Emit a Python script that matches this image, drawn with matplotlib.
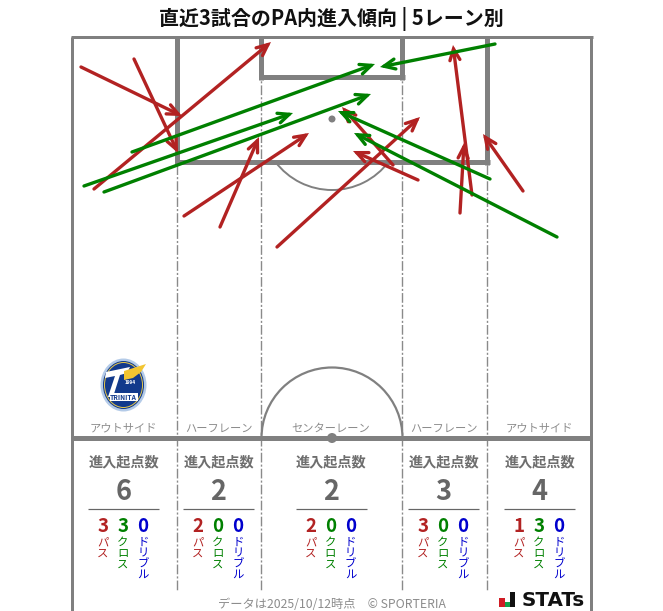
import matplotlib
matplotlib.use("Agg")
import matplotlib.pyplot as plt
from matplotlib.patches import Arc, Circle, Ellipse, Polygon, Rectangle

plt.rcParams['font.family'] = ['Noto Sans CJK JP', 'DejaVu Sans']

TITLE = "直近3試合のPA内進入傾向 | 5レーン別"
FOOTER = "データは2025/10/12時点　© SPORTERIA"
STAT_HEAD = "進入起点数"
lane_names = ["アウトサイド", "ハーフレーン", "センターレーン", "ハーフレーン", "アウトサイド"]
lane_centers = [123.5, 218.5, 331, 443.5, 539.5]
totals = [6, 2, 2, 3, 4]
passes = [3, 2, 2, 3, 1]
crosses = [3, 0, 0, 0, 3]
dribbles = [0, 0, 0, 0, 0]
kind_labels = ["パス", "クロス", "ドリブル"]
RED, GREEN, BLUE = "#b22222", "#008000", "#0000cd"
GREY = "#808080"

red_x0 = [81, 134, 94, 184, 220, 277, 393, 418, 472, 460, 523]
red_y0 = [67, 59, 189, 216, 227, 247, 165, 180, 195, 213, 191]
red_x1 = [182, 178, 271, 309, 259, 420, 342, 353, 453, 464, 483]
red_y1 = [116, 153, 42, 133, 137, 117, 107, 151, 45, 143, 134]

green_x0 = [132, 84, 104, 495, 490, 557]
green_y0 = [152, 186, 192, 44, 179, 237]
green_x1 = [375, 293, 371, 380, 338, 354]
green_y1 = [64, 113, 94, 67, 111, 133]

fig = plt.figure(figsize=(6.63, 6.11), dpi=100)
ax = fig.add_axes([0, 0, 1, 1])
ax.set_xlim(0, 663)
ax.set_ylim(611, 0)
ax.axis("off")

px = 0.72  # points per pixel at dpi 100

def line(xs, ys, w, c=GREY, **kw):
    ax.plot(xs, ys, color=c, lw=w * px, solid_capstyle=kw.pop("cap", "butt"), **kw)

# lane dividers
for x in [177, 261, 402, 487]:
    ax.plot([x, x], [37, 590], color="#8a8a8a", lw=1.0, ls=(0, (7, 1.5, 1.5, 1.5)), zorder=1)

# white out the divider inside the goal area
ax.add_patch(Rectangle((262, 38), 140, 38, fc="white", ec="none", zorder=1.2))
ax.add_patch(Rectangle((177.8, 38), 83, 124, fc="white", ec="none", zorder=0.5))

# pitch border
line([72, 72], [37, 611], 3)
line([591, 591], [37, 611], 3)
line([70.5, 592.5], [37, 37], 3)
line([72, 591], [438, 438], 5)
# penalty box
line([177, 177], [37, 164.5], 5)
line([487, 487], [37, 164.5], 5)
line([174.5, 489.5], [162, 162], 5)
# goal area
line([261, 261], [37, 79.5], 5)
line([402, 402], [37, 79.5], 5)
line([258.5, 404.5], [77, 77], 5)

ax.add_patch(Circle((332, 119), 3.5, fc=GREY, ec="none", zorder=2))
ax.add_patch(Circle((332, 438), 5, fc=GREY, ec="none", zorder=2))
ax.add_patch(Arc((332, 119), 142, 142, theta1=37, theta2=143, ec=GREY, lw=1.4, zorder=1.5))
ax.add_patch(Arc((332, 438), 141, 141, theta1=180, theta2=360, ec=GREY, lw=1.6, zorder=1.5))

# arrows
def arrows(x0, y0, x1, y1, c):
    for a, b, d, e in zip(x0, y0, x1, y1):
        ax.annotate("", xy=(d, e), xytext=(a, b), zorder=4,
                    arrowprops=dict(arrowstyle="->,head_length=0.8,head_width=0.36",
                                    color=c, lw=2.4, shrinkA=0, shrinkB=0,
                                    capstyle="round", joinstyle="miter"))

arrows(red_x0, red_y0, red_x1, red_y1, RED)
arrows(green_x0, green_y0, green_x1, green_y1, GREEN)

# title
ax.text(331, 19, TITLE, ha="center", va="center", fontsize=14.4, fontweight="bold", color="#111111")

# lane stats
for cx, name, tot, p, c, d in zip(lane_centers, lane_names, totals, passes, crosses, dribbles):
    ax.text(cx, 429, name, ha="center", va="center", fontsize=8.1, color="#8c8c8c")
    ax.text(cx, 462, STAT_HEAD, ha="center", va="center", fontsize=10.2, fontweight="bold", color="#6e6e6e")
    ax.text(cx, 491.5, str(tot), ha="center", va="center", fontsize=19.5, fontweight="bold", color="#666666")
    line([cx - 35.5, cx + 35.5], [508.5, 508.5], 1.2, c="#666666")
    for off, val, col, lab in zip([-20, 0, 20], [p, c, d], [RED, GREEN, BLUE], kind_labels):
        ax.text(cx + off - 0.5, 526.5, str(val), ha="center", va="center", fontsize=13.5, fontweight="bold", color=col)
        for i, ch in enumerate(lab):
            ax.text(cx + off - 0.5, 543 + i * 10.6, ch, ha="center", va="center", fontsize=8.2, color=col)

# badge
ax.add_patch(Ellipse((123.5, 385), 46, 53, fc="#b4cbe8", ec="none", zorder=3))
ax.add_patch(Ellipse((123.5, 385), 41, 48, fc="#123a8c", ec="none", zorder=3))
ax.add_patch(Ellipse((123.5, 385), 38, 45, fc="none", ec="#e8c94a", lw=0.7, zorder=3.1))
ax.add_patch(Polygon([[106, 372], [130, 367], [127, 373], [120, 375], [113, 397], [108, 397], [115, 376], [105, 378]],
                     fc="white", ec="none", zorder=3.2))
ax.add_patch(Polygon([[124, 371], [146, 364], [141, 372], [133, 378], [124, 380]], fc="#f2c531", ec="none", zorder=3.2))
ax.add_patch(Rectangle((110, 393), 28, 8, fc="white", ec="none", zorder=3.2))
ax.text(123.5, 397, "TRINITA", ha="center", va="center", fontsize=4.8, fontweight="bold", color="#123a8c", zorder=3.4)
ax.text(130, 383, "1994", ha="center", va="center", fontsize=3.4, fontweight="bold", color="white", zorder=3.4)

# footer
ax.text(331.5, 604, FOOTER, ha="center", va="center", fontsize=8.8, color="#8c8c8c")

# STATS logo
ax.add_patch(Rectangle((499, 598), 6, 9, fc="#d01c24", ec="none"))
ax.add_patch(Rectangle((505, 602), 5, 5, fc="#12a04a", ec="none"))
ax.add_patch(Rectangle((510, 592), 5, 15, fc="#111111", ec="none"))
ax.text(521.5, 600, "STATs", ha="left", va="center", fontsize=14.3, fontweight="bold",
        family="DejaVu Sans", color="#111111")

fig.savefig("out.png", dpi=100)
